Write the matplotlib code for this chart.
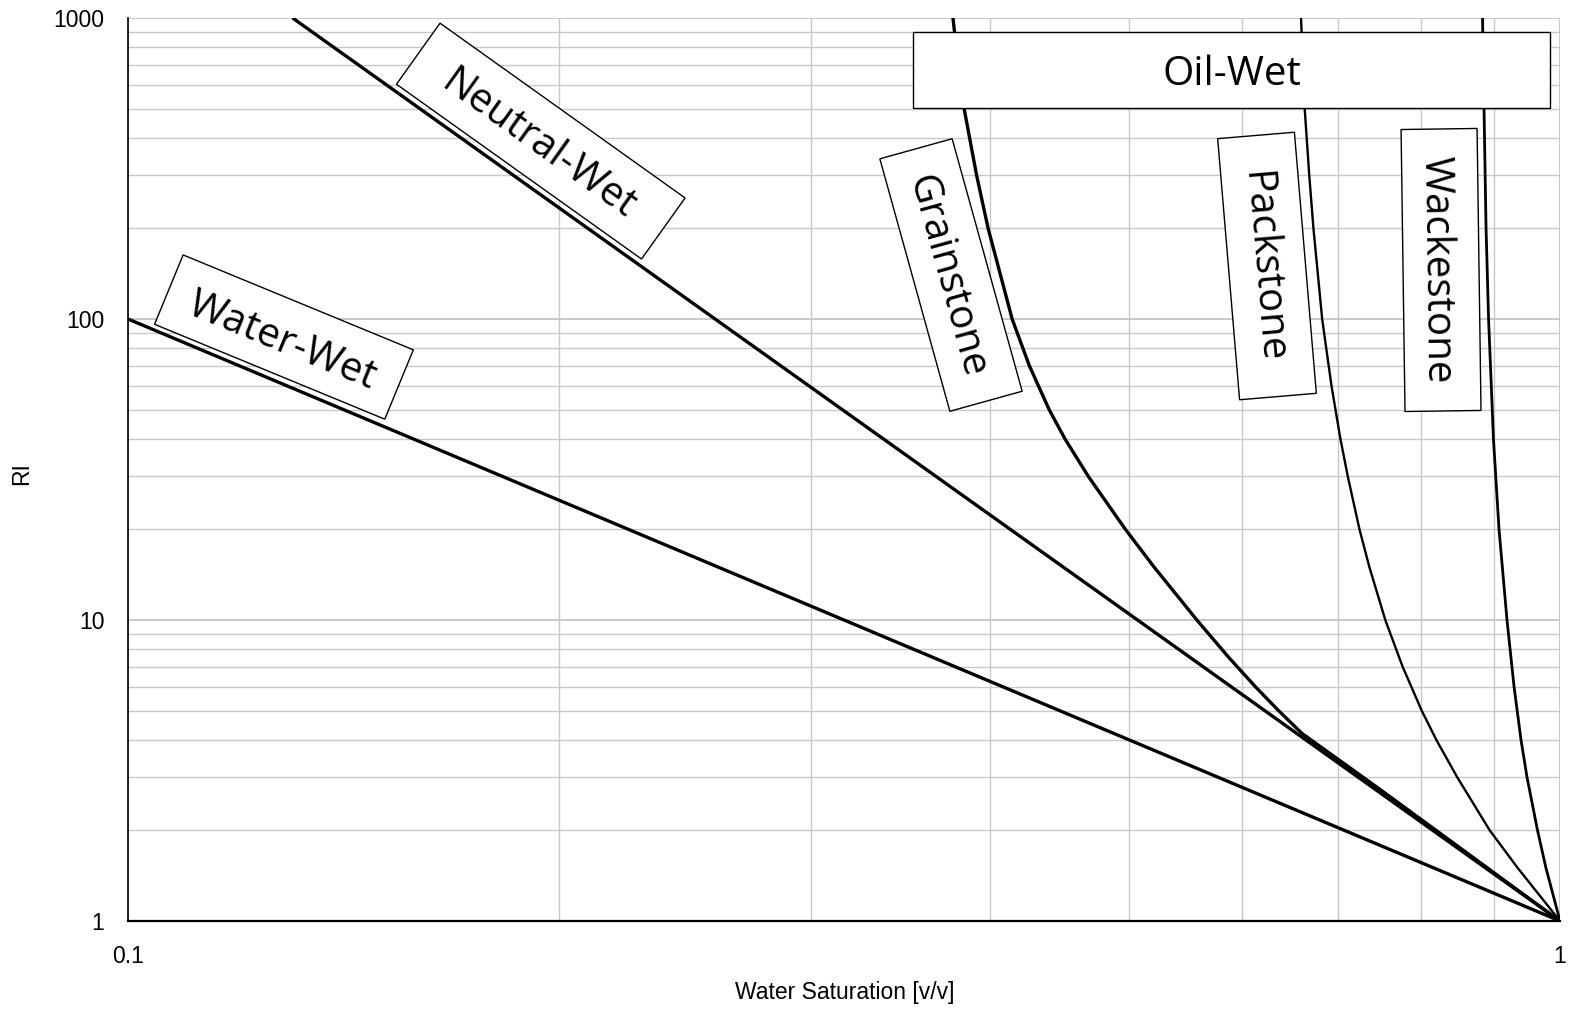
import matplotlib
matplotlib.use("Agg")
import matplotlib.pyplot as plt
import matplotlib.transforms as mtrans
from matplotlib.patches import Rectangle
from matplotlib.ticker import LogLocator, NullFormatter, FixedLocator, FixedFormatter

# values (Sw in v/v, RI dimensionless)
water_sw = [0.1, 1.0]
water_ri = [100, 1]

neutral_sw = [0.1303, 1.0]
neutral_ri = [1000, 1]

grain_sw = [0.3768, 0.3799, 0.3836, 0.3914, 0.3987, 0.4144, 0.4260, 0.4398, 0.4511,
            0.4684, 0.4972, 0.5206, 0.5577, 0.5872, 0.6128, 0.6360, 0.6604,
            0.75, 0.85, 0.95, 1.0]
grain_ri = [1000, 700, 500, 300, 200, 100, 70, 50, 40,
            30, 20, 15, 10, 7.5, 6, 5, 4.2,
            2.72, 1.76, 1.195, 1]

pack_sw = [0.6594, 0.6633, 0.6682, 0.6727, 0.6822, 0.6925, 0.7025, 0.7109, 0.7244,
           0.7360, 0.7551, 0.7764, 0.8006, 0.8196, 0.8478, 0.8932, 0.9343, 1.0]
pack_ri = [1000, 500, 300, 200, 100, 60, 40, 30, 20,
           15, 10, 7, 5, 4, 3, 2, 1.5, 1]

wack_sw = [0.8829, 0.8850, 0.8879, 0.8915, 0.8985, 0.9066, 0.9183, 0.9288, 0.9392,
           0.9484, 0.9645, 0.9777, 1.0]
wack_ri = [1000, 500, 200, 100, 40, 20, 10, 6, 4,
           3, 2, 1.5, 1]

x_ticks = [0.1, 1]
x_labels = ["0.1", "1"]
y_ticks = [1, 10, 100, 1000]
y_labels = ["1", "10", "100", "1000"]

fig = plt.figure(figsize=(15.91, 10.25), dpi=100)
ax = fig.add_axes([128 / 1591, 1 - 921 / 1025, 1432 / 1591, 903 / 1025])
ax.set_xscale("log")
ax.set_yscale("log")
ax.set_xlim(0.1, 1)
ax.set_ylim(1, 1000)

# grid
ax.xaxis.set_major_locator(FixedLocator(x_ticks))
ax.xaxis.set_major_formatter(FixedFormatter(x_labels))
ax.yaxis.set_major_locator(FixedLocator(y_ticks))
ax.yaxis.set_major_formatter(FixedFormatter(y_labels))
ax.xaxis.set_minor_locator(LogLocator(base=10, subs=range(2, 10)))
ax.yaxis.set_minor_locator(LogLocator(base=10, subs=range(2, 10)))
ax.xaxis.set_minor_formatter(NullFormatter())
ax.yaxis.set_minor_formatter(NullFormatter())
ax.grid(True, which="major", color="#c4c4c4", lw=1.3)
ax.grid(True, which="minor", color="#c8c8c8", lw=1.0)
ax.set_axisbelow(True)
ax.tick_params(which="both", length=0)
ax.tick_params(labelsize=16.5, pad=17)
for lab in ax.get_xticklabels() + ax.get_yticklabels():
    lab.set_fontfamily("Liberation Sans")

for s in ["top", "right"]:
    ax.spines[s].set_visible(False)
ax.spines["left"].set_linewidth(1.2)
ax.spines["bottom"].set_linewidth(1.6)

ax.plot(water_sw, water_ri, color="black", lw=2.4, solid_capstyle="butt")
ax.plot(neutral_sw, neutral_ri, color="black", lw=2.4, solid_capstyle="butt")
ax.plot(grain_sw, grain_ri, color="black", lw=2.4, solid_joinstyle="round")
ax.plot(pack_sw, pack_ri, color="black", lw=1.7, solid_joinstyle="round")
ax.plot(wack_sw, wack_ri, color="black", lw=2.0, solid_joinstyle="round")

ax.set_xlabel("Water Saturation [v/v]", fontsize=16.5, family="Liberation Sans")
ax.set_ylabel("RI", fontsize=16.5, family="Liberation Sans")
ax.xaxis.set_label_coords(0.5007, -0.066)
ax.yaxis.set_label_coords(-0.066, 0.495)


def label_box(sw, ri, w, h, angle, text):
    x, y = ax.transData.transform((sw, ri))
    tr = mtrans.Affine2D().rotate_deg(angle).translate(x, y)
    box = Rectangle((-w / 2, -h / 2), w, h, transform=tr, facecolor="white",
                    edgecolor="black", lw=1.0, zorder=5, clip_on=False)
    ax.add_patch(box)
    ax.text(sw, ri, text, rotation=angle, rotation_mode="anchor", ha="center",
            va="center_baseline", fontsize=29, family="Open Sans", zorder=6)


label_box(0.1942, 390, 301, 75, -35.5, "Neutral-Wet")
label_box(0.1285, 87.1, 249, 75, -22.4, "Water-Wet")
label_box(0.3756, 140, 262, 75, -74.5, "Grainstone")
label_box(0.6243, 150, 262, 77, -85.2, "Packstone")
label_box(0.8259, 145.5, 282, 76, -89.2, "Wackestone")
label_box(0.5898, 671, 637, 76, 0, "Oil-Wet")

fig.savefig("out.png", dpi=100)
